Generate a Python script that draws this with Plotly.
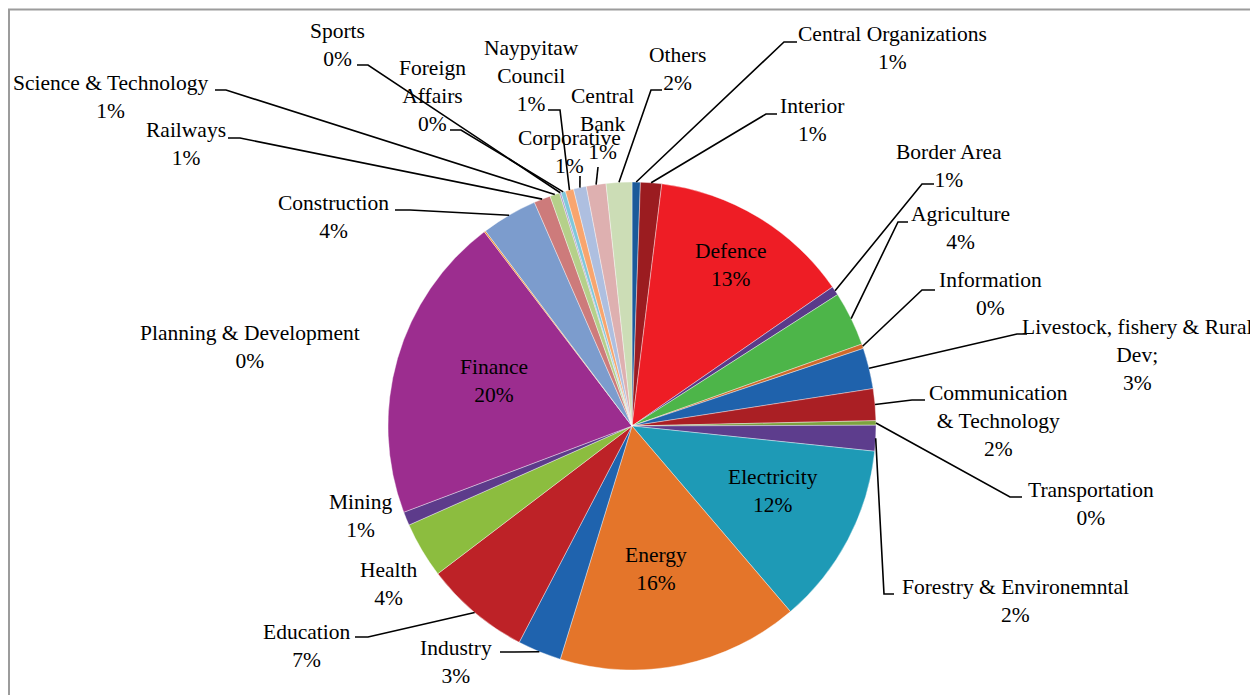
import math
import plotly.graph_objects as go

# ---------------- data ----------------
ministries = [
    "Central Organizations", "Interior", "Defence", "Border Area", "Agriculture",
    "Information", "Livestock, fishery & Rural<br>Dev;", "Communication<br>& Technology",
    "Transportation", "Forestry & Environemntal", "Electricity", "Energy", "Industry",
    "Education", "Health", "Mining", "Finance", "Planning & Development",
    "Construction", "Railways", "Science & Technology", "Sports", "Foreign<br>Affairs",
    "Naypyitaw<br>Council", "Corporative", "Central<br>Bank", "Others",
]
share = [
    0.55, 1.4, 13.4, 0.6, 3.6,
    0.3, 2.7, 2.1,
    0.3, 1.7, 12.1, 16.0, 2.9,
    7.0, 3.7, 0.9, 20.4, 0.1,
    3.7, 1.1, 0.65, 0.1, 0.3,
    0.55, 0.85, 1.3, 1.7,
]
colors = [
    "#1B5A9A", "#9B1C20", "#EE1D25", "#5A3A8A", "#4DB549",
    "#D0692A", "#1F62AC", "#AA1F24", "#7DA33F", "#5D3D8D",
    "#1E9AB6", "#E4752A", "#1F63AE", "#BD2227", "#8CBD3F",
    "#5D3B8B", "#9C2D8F", "#F08A24", "#7C9CCD", "#CD7B7B",
    "#B5D08A", "#A58CC4", "#80C7DA", "#F8A56E", "#AEBFE0",
    "#DEB0B0", "#CCDDB6",
]

# ---------------- layout constants ----------------
# page body has an 8px margin, so the figure is drawn 8px in from the window corner
OFF = 8
W, H = 1250, 687
CX, CY, R = 632, 426, 244          # in window pixels
FONT = "Liberation Serif"
FS = 21.5


def px(x):
    return (x - OFF) / W


def py(y):
    return 1 - (y - OFF) / H


total = sum(share)
pct = [f"{round(v / total * 100)}%" for v in share]

# label block centres (window pixels) and leader paths (label side first)
label_pos = {
    "Central Organizations": (892, 48.5, [(797, 42), (784, 42)]),
    "Interior": (812, 120, [(777, 114), (766, 114)]),
    "Defence": (731, 265, None),
    "Border Area": (949, 165.5, [(934, 184), (922, 184)]),
    "Agriculture": (960, 227.5, [(908, 222), (898, 222)]),
    "Information": (990, 294.5, [(935, 290), (922, 290)]),
    "Livestock, fishery & Rural<br>Dev;": (1137, 354.5, [(1027, 334), (1017, 334)]),
    "Communication<br>& Technology": (998, 421, [(925, 400), (912, 400)]),
    "Transportation": (1091, 503.5, [(1022, 497), (1010, 497)]),
    "Forestry & Environemntal": (1015, 600.5, [(894, 594), (884, 594)]),
    "Electricity": (773, 491, None),
    "Energy": (656, 569, None),
    "Industry": (456, 662, [(500, 652), (514, 652)]),
    "Education": (306, 646, [(355, 637), (368, 637)]),
    "Health": (389, 583.5, None),
    "Mining": (361, 515.5, None),
    "Finance": (494, 381, None),
    "Planning & Development": (250, 347, None),
    "Construction": (333, 216.5, [(395, 210), (410, 210)]),
    "Railways": (186, 144.5, [(228, 138), (240, 138)]),
    "Science & Technology": (110, 96.5, [(215, 90), (226, 90)]),
    "Sports": (337, 45.5, [(357, 65), (368, 65)]),
    "Foreign<br>Affairs": (432, 96, [(450, 130), (461, 130)]),
    "Naypyitaw<br>Council": (531, 76, [(548, 110), (560, 110)]),
    "Corporative": (569, 152.5, [(580, 176)]),
    "Central<br>Bank": (602, 124, [(598, 167)]),
    "Others": (677, 68.5, [(662, 90), (651, 90)]),
}

fig = go.Figure(
    go.Pie(
        labels=ministries,
        values=share,
        sort=False,
        direction="clockwise",
        rotation=0,
        textinfo="none",
        marker=dict(colors=colors, line=dict(color="rgba(255,255,255,0.55)", width=0.7)),
        domain=dict(x=[px(CX - R), px(CX + R)], y=[py(CY + R), py(CY - R)]),
        hoverinfo="label+percent",
    )
)

annotations = []
shapes = []
cum = 0.0
for name, v, p in zip(ministries, share, pct):
    mid = (cum + v / 2) / total * 2 * math.pi
    cum += v
    ex = CX + R * math.sin(mid)
    ey = CY - R * math.cos(mid)
    lx, ly, path = label_pos[name]
    annotations.append(dict(
        x=px(lx), y=py(ly), xref="paper", yref="paper",
        text=f"{name}<br>{p}", showarrow=False,
        xanchor="center", yanchor="middle", align="center",
        font=dict(family=FONT, size=FS, color="black"),
    ))
    if path:
        pts = path + [(ex, ey)]
        d = "M " + " L ".join(f"{px(a):.5f},{py(b):.5f}" for a, b in pts)
        shapes.append(dict(type="path", xref="paper", yref="paper", path=d,
                           line=dict(color="black", width=1.6)))

# chart frame
shapes.append(dict(type="rect", xref="paper", yref="paper",
                   x0=px(9), x1=px(1255), y0=py(720), y1=py(9.5),
                   line=dict(color="#9C9C9C", width=2), layer="below"))

fig.update_layout(
    width=W, height=H,
    margin=dict(l=0, r=0, t=0, b=0),
    paper_bgcolor="white", plot_bgcolor="white",
    showlegend=False,
    annotations=annotations,
    shapes=shapes,
)

fig.write_html("out.html")
